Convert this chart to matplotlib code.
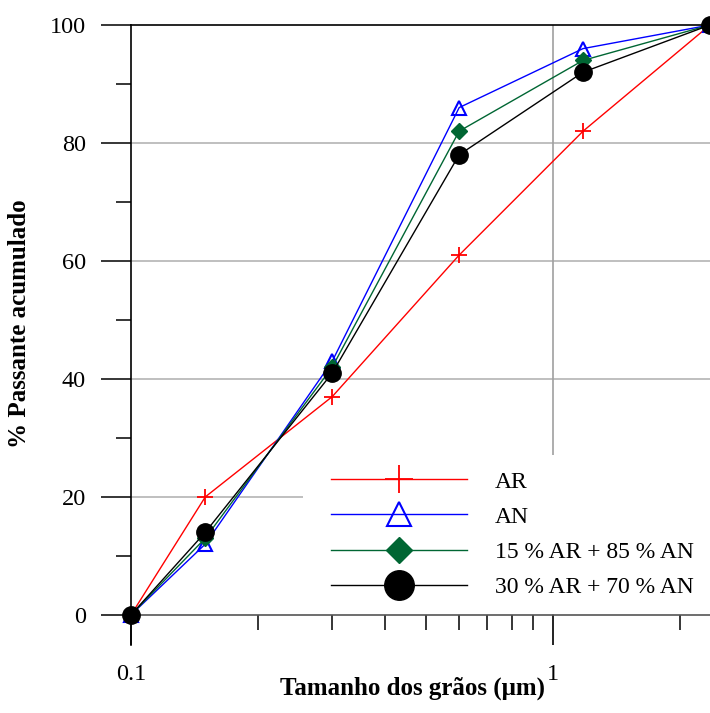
import numpy as np
import matplotlib.pyplot as plt
from matplotlib.patches import Rectangle
from matplotlib.ticker import FixedLocator, NullFormatter

plt.rcParams['font.family'] = ['Liberation Serif', 'DejaVu Serif']

# sieve sizes and cumulative passing (%)
sizes = [0.1, 0.15, 0.3, 0.6, 1.18, 2.36]
ar = [0, 20, 37, 61, 82, 100]
an = [0, 12, 43, 86, 96, 100]
mix15 = [0, 13, 42, 82, 94, 100]
mix30 = [0, 14, 41, 78, 92, 100]
labels = ["AR", "AN", "15 % AR + 85 % AN", "30 % AR + 70 % AN"]

fig = plt.figure(figsize=(7.10, 7.13), dpi=100)
ax = fig.add_axes([131/710, 68/713, 579/710, 620/713])

ax.set_xscale('log')
ax.set_xlim(0.1, 2.36)
ax.set_ylim(-5.1, 100)

# gridlines
for y in [20, 40, 60, 80]:
    ax.axhline(y, color='#b4b4b4', lw=1.2, zorder=0)
ax.axvline(1, color='#a0a0a0', lw=1.2, zorder=0)
ax.axhline(100, color='black', lw=1.2, zorder=1, clip_on=False)

ax.plot(sizes, ar, color='red', lw=1, marker='+', ms=12, mew=1.3, label=labels[0], clip_on=False, zorder=3)
ax.plot(sizes, an, color='blue', lw=1, marker='^', ms=10.5, mfc='none', mew=1.5, label=labels[1], clip_on=False, zorder=3)
ax.plot(sizes, mix15, color='#006633', lw=1, marker='D', ms=8, label=labels[2], clip_on=False, zorder=3)
ax.plot(sizes, mix30, color='black', lw=1, marker='o', ms=12.5, label=labels[3], clip_on=False, zorder=4)

# spines
ax.spines['top'].set_visible(False)
ax.spines['right'].set_visible(False)
ax.spines['bottom'].set_position(('data', 0))
ax.spines['bottom'].set_color('#555555')
ax.spines['left'].set_linewidth(1.2)
ax.spines['bottom'].set_linewidth(1.2)

# ticks
ax.yaxis.set_major_locator(FixedLocator([0, 20, 40, 60, 80, 100]))
ax.yaxis.set_minor_locator(FixedLocator([10, 30, 50, 70, 90]))
ax.set_xticks([0.1, 1])
ax.set_xticklabels(['0.1', '1'])
ax.xaxis.set_minor_locator(FixedLocator([0.2, 0.3, 0.4, 0.5, 0.6, 0.7, 0.8, 0.9, 2]))
ax.xaxis.set_minor_formatter(NullFormatter())
ax.tick_params(axis='both', which='major', length=21.6, width=1.1, labelsize=17.5, direction='out')
ax.tick_params(axis='y', which='major', pad=11)
ax.tick_params(axis='x', which='major', pad=14)
ax.tick_params(axis='both', which='minor', length=10.8, width=1.1, direction='out')

ax.set_xlabel("Tamanho dos grãos (μm)", fontsize=18, fontweight='bold')
ax.xaxis.set_label_coords(0.487, -0.051)
ax.set_ylabel("% Passante acumulado", fontsize=18, fontweight='bold')
ax.yaxis.set_label_coords(-0.172, 0.518)

# white box behind the legend (down to the x axis)
ax.add_patch(Rectangle(((303-131)/579, (645-614)/620), 1 - (303-131)/579, 159/620,
                       transform=ax.transAxes, facecolor='white', edgecolor='none', zorder=2))

leg = ax.legend(loc='upper left', bbox_to_anchor=((331-131)/579, (645-471)/620), fontsize=17,
                handlelength=5.76, handletextpad=1.19, labelspacing=0.58, markerscale=1.7,
                frameon=False, borderpad=0, borderaxespad=0)
leg.set_zorder(5)

plt.savefig('out.png', dpi=100)
